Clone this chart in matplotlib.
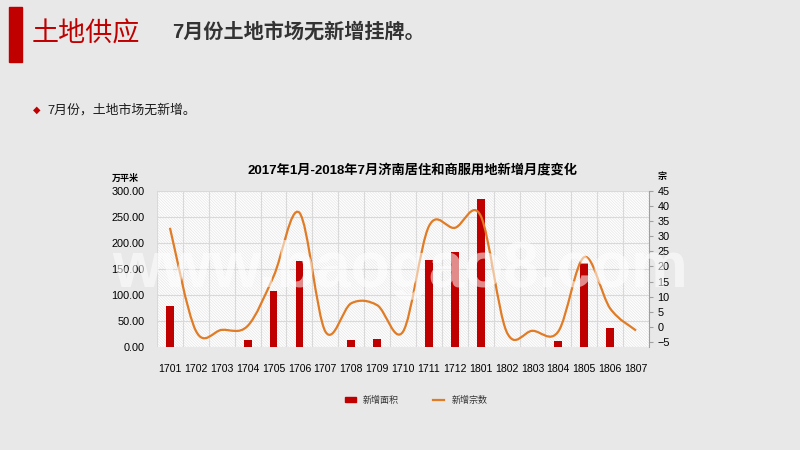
import numpy as np
import matplotlib
matplotlib.use('Agg')
import matplotlib.pyplot as plt
from matplotlib.path import Path
from matplotlib.patches import PathPatch, Rectangle, Patch
from matplotlib.lines import Line2D

plt.rcParams['font.family'] = ['Liberation Sans', 'Noto Sans CJK SC', 'DejaVu Sans']
plt.rcParams['hatch.linewidth'] = 0.5
plt.rcParams['hatch.color'] = '#e6e6e6'

months = ['1701', '1702', '1703', '1704', '1705', '1706', '1707', '1708', '1709', '1710',
          '1711', '1712', '1801', '1802', '1803', '1804', '1805', '1806', '1807']
area = [79, 0, 0, 13, 107, 166, 0, 13, 16, 0, 167, 183, 285, 0, 0, 11, 161, 37, 0]
count = [32.8, -1.3, -1.0, 0.3, 16.7, 37.8, -1.5, 7.8, 7.2, -1.6,
         33.3, 32.8, 36.8, -1.6, -1.3, -1.5, 23.1, 6.1, -1.2]
left_ticks = [0, 50, 100, 150, 200, 250, 300]
right_ticks = [-5, 0, 5, 10, 15, 20, 25, 30, 35, 40, 45]

RED = '#c00000'
ORANGE = '#e07b26'

fig = plt.figure(figsize=(8, 4.5), dpi=100)
fig.patch.set_facecolor('#e8e8e8')

# header
fig.patches.append(Rectangle((9 / 800, 1 - 62 / 450), 13 / 800, 55 / 450,
                             transform=fig.transFigure, color=RED))
fig.text(32 / 800, 1 - 35 / 450, '土地供应', color=RED, fontsize=19.5, va='center')
fig.text(172 / 800, 1 - 32 / 450, '7月份土地市场无新增挂牌。', color='#333333',
         fontsize=14.5, fontweight='bold', va='center')
fig.text(37 / 800, 1 - 110 / 450, '◆', color=RED, fontsize=7, ha='center', va='center',
         family=['DejaVu Sans'])
fig.text(47 / 800, 1 - 110 / 450, '7月份，土地市场无新增。', color='#1a1a1a',
         fontsize=9.3, va='center')

# chart
ax = fig.add_axes([157 / 800, 1 - 347 / 450, 492 / 800, 156 / 450])
ax.set_facecolor('white')
ax.patch.set_hatch('\\\\\\\\\\\\\\\\\\\\\\\\')
ax.patch.set_edgecolor('#e6e6e6')
ax.patch.set_linewidth(0)

x = np.arange(len(months))
ax.bar(x, area, width=0.3, color=RED, zorder=3)
ax.set_xlim(-0.5, len(months) - 0.5)
ax.set_ylim(0, 300)
ax.set_yticks(left_ticks)
ax.set_yticklabels(['%.2f' % v for v in left_ticks])
ax.set_xticks(x)
ax.set_xticklabels(months)
ax.tick_params(axis='x', length=0, pad=12, labelsize=7.6)
ax.tick_params(axis='y', length=0, pad=9, labelsize=7.8)
for v in left_ticks:
    ax.axhline(v, color='#d9d9d9', lw=0.8, zorder=1)
for b in np.arange(-0.5, len(months), 1.0):
    ax.axvline(b, color='#d9d9d9', lw=0.8, zorder=1)
for s in ax.spines.values():
    s.set_visible(False)

ax2 = ax.twinx()
ax2.set_ylim(-6.67, 45)
ax2.set_yticks(right_ticks)
ax2.tick_params(axis='y', length=3, pad=3, labelsize=7.8, color='#a0a0a0')
for name, s in ax2.spines.items():
    s.set_visible(name == 'right')
ax2.spines['right'].set_color('#a0a0a0')

# smoothed line (bezier segments through the data points)
pts = np.column_stack([x, count]).astype(float)
ext = np.vstack([pts[0], pts, pts[-1]])
verts = [tuple(pts[0])]
codes = [Path.MOVETO]
for i in range(len(pts) - 1):
    p0, p1, p2, p3 = ext[i], ext[i + 1], ext[i + 2], ext[i + 3]
    c1 = p1 + (p2 - p0) / 6
    c2 = p2 - (p3 - p1) / 6
    verts += [tuple(c1), tuple(c2), tuple(p2)]
    codes += [Path.CURVE4] * 3
ax2.add_patch(PathPatch(Path(verts, codes), facecolor='none', edgecolor=ORANGE,
                        lw=1.6, zorder=4))

fig.text(0.515, 1 - 170 / 450, '2017年1月-2018年7月济南居住和商服用地新增月度变化',
         ha='center', va='center', fontsize=9.5, fontweight='bold')
fig.text(125 / 800, 1 - 178 / 450, '万平米', ha='center', va='center', fontsize=6.5,
         fontweight='bold')
fig.text(662 / 800, 1 - 177 / 450, '宗', ha='center', va='center', fontsize=6.5,
         fontweight='bold')

handles = [Patch(color=RED), Line2D([0], [0], color=ORANGE, lw=1.6)]
fig.legend(handles, ['新增面积', '新增宗数'], ncol=2, loc='center',
           bbox_to_anchor=(0.52, 1 - 400 / 450), frameon=False, fontsize=6.5,
           handlelength=1.2, handleheight=0.5, columnspacing=3.8, labelcolor='#333333')

# watermark
fig.text(400 / 800, 1 - 287 / 450, 'www.baogao8.com', ha='center', va='baseline',
         fontsize=46, fontweight='bold', color='white', alpha=0.55)

fig.savefig('out.png', dpi=100, facecolor=fig.get_facecolor())
